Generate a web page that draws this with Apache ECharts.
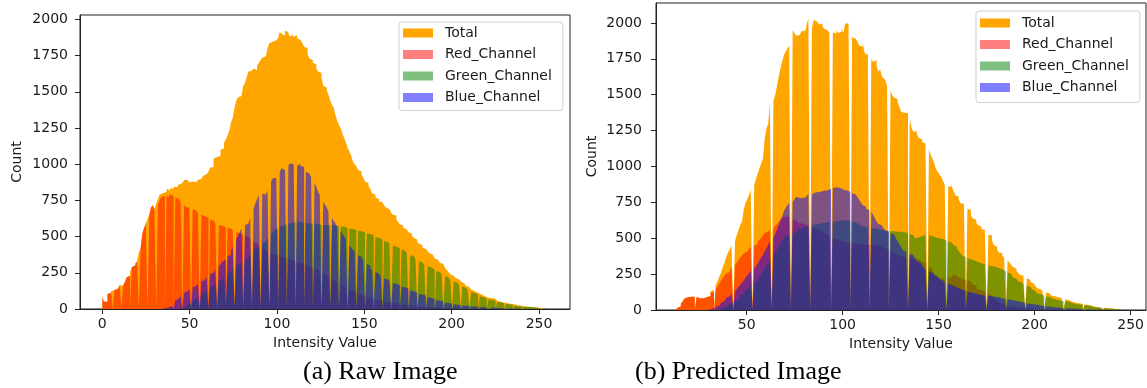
<!DOCTYPE html>
<html><head><meta charset="utf-8">
<script src="https://cdn.jsdelivr.net/npm/echarts@6/dist/echarts.min.js"></script>
<style>html,body{margin:0;padding:0;background:#fff}#c{width:1147px;height:388px}</style>
</head><body><div id="c"></div><script>
// ---------- Panel (a): Raw Image, counts per intensity 0..255 ----------
const rawTotal = [
85,50,52,105,110,125,130,135,140,150,
165,160,170,185,220,230,255,290,300,315,
330,390,420,520,560,590,620,650,700,720,
690,730,760,790,800,805,810,830,820,835,
830,845,840,850,860,870,880,890,890,880,
875,880,890,875,880,890,900,905,920,930,
940,950,975,980,1040,1050,1055,1060,1100,1110,
1150,1170,1200,1230,1290,1320,1390,1440,1460,1470,
1480,1540,1560,1600,1640,1645,1650,1660,1650,1680,
1700,1720,1735,1745,1755,1800,1835,1845,1850,1855,
1860,1870,1915,1900,1890,1920,1915,1900,1880,1895,
1880,1890,1870,1858,1845,1835,1810,1800,1760,1730,
1720,1700,1690,1660,1640,1630,1600,1540,1530,1510,
1480,1440,1410,1390,1340,1300,1270,1250,1210,1180,
1150,1110,1090,1060,1020,1000,985,960,950,930,
905,880,870,850,830,800,790,770,760,745,
735,725,715,700,690,680,665,650,645,620,
600,585,575,560,550,540,530,520,505,490,
480,465,450,440,425,415,405,400,385,375,
365,350,340,330,320,310,300,285,270,255,
240,230,220,212,205,198,190,178,168,160,
152,145,135,125,118,113,105,100,95,88,
82,78,76,75,74,70,62,55,50,48,
45,42,39,37,35,33,32,28,25,24,
23,20,18,17,16,15,14,14,12,10,
9,9,7,6,5,4];
const rawRed = [
85,50,52,105,110,125,0,135,140,150,
165,0,170,185,220,230,0,290,300,315,
330,0,420,520,560,590,0,650,700,715,
685,0,720,750,775,780,0,785,770,790,
780,0,770,760,750,740,0,720,705,700,
695,0,690,680,670,660,0,650,640,640,
630,0,620,610,600,590,0,580,575,570,
565,0,560,555,545,540,0,530,525,520,
515,0,505,500,490,480,0,465,455,445,
435,0,420,410,400,395,0,385,380,375,
370,0,365,360,355,350,0,345,340,335,
330,0,325,320,315,310,0,300,295,290,
285,0,275,270,260,255,0,245,235,230,
220,0,205,195,190,180,0,165,160,150,
145,0,130,125,120,115,0,105,100,95,
90,0,82,78,75,72,0,65,62,60,
57,0,52,50,48,45,0,42,40,38,
36,0,33,31,30,28,0,25,24,22,
21,0,19,18,17,16,0,14,13,12,
12,0,10,10,9,8,0,7,7,6,
6,0,5,5,4,4,0,3,3,3,
2,0,2,2,2,1,0,1,1,1,
1,0,1,1,1,1,0,1,0,0,
0,0,0,0,0,0,0,0,0,0,
0,0,0,0,0,0,0,0,0,0,
0,0,0,0,0,0];
const rawGreen = [
0,0,0,0,0,0,0,0,0,0,
0,0,0,0,0,0,0,0,0,0,
0,0,0,0,0,0,0,0,0,0,
0,0,0,0,0,0,0,0,0,0,
0,0,0,0,0,5,0,12,20,30,
40,0,60,68,74,85,0,105,115,125,
135,0,150,158,166,175,0,195,205,215,
225,0,245,258,268,280,0,300,310,320,
327,0,345,355,365,375,0,400,419,425,
435,0,455,465,475,490,0,510,530,545,
557,0,570,575,580,585,0,590,592,598,
603,0,605,600,598,595,0,592,590,590,
590,0,588,585,585,582,0,580,580,578,
578,0,576,575,575,573,0,570,570,568,
560,0,556,552,548,545,0,540,536,533,
530,0,522,518,514,510,0,498,492,486,
480,0,470,464,458,450,0,438,432,426,
420,0,410,402,395,388,0,372,364,356,
345,0,330,322,315,308,0,295,288,282,
275,0,262,255,248,240,0,228,220,212,
200,0,188,182,176,168,0,155,148,140,
132,0,118,110,104,98,0,88,83,77,
72,0,66,63,60,57,0,50,46,42,
38,0,34,32,29,27,0,23,21,20,
19,0,16,15,14,13,0,11,10,9,
8,0,6,5,4,3];
const rawBlue = [
0,0,0,0,0,0,0,0,0,0,
0,0,0,0,0,0,0,0,0,0,
0,0,0,0,0,0,0,0,0,0,
0,0,0,0,0,5,0,10,15,20,
30,0,60,70,80,90,0,110,120,130,
140,0,150,160,166,175,0,190,200,210,
220,0,240,250,260,270,0,295,310,327,
340,0,365,373,400,430,0,480,500,530,
557,0,580,590,603,630,0,690,730,760,
787,0,795,790,800,820,0,880,902,905,
913,0,950,971,960,980,0,990,1006,1000,
995,0,990,1000,985,983,0,948,935,925,
910,0,870,845,810,787,0,740,720,700,
672,0,630,610,590,570,0,540,520,500,
480,0,440,425,410,395,0,370,360,350,
335,0,310,300,285,270,0,255,245,235,
225,0,210,205,195,190,0,180,175,170,
165,0,155,150,145,140,0,130,122,118,
112,0,104,100,97,92,0,82,78,72,
68,0,62,58,55,50,0,44,41,39,
36,0,32,30,28,26,0,23,22,21,
20,0,18,17,16,15,0,13,12,12,
11,0,10,9,9,8,0,7,7,6,
6,0,5,5,4,4,0,3,3,3,
2,0,2,2,2,1,0,1,1,1,
1,0,1,0,0,0];
const rawFirstValue = 0;
const rawRange = [0, 255];

// ---------- Panel (b): Predicted Image, counts per intensity 13..246 ----------
const predTotal = [
3,15,25,45,60,80,88,
92,93,92,93,90,82,80,82,85,90,
92,100,130,140,175,200,233,260,300,330,
370,400,420,450,480,520,560,590,616,700,
744,770,800,840,870,917,950,987,1020,1056,
1195,1265,1300,1428,1460,1497,1560,1625,1683,1730,
1776,1800,1823,1840,1950,1930,1910,1916,1920,1940,
1950,1930,1990,2031,1960,2020,2010,2000,1990,1997,
1980,1960,1950,1940,1930,1935,1927,1950,1930,1939,
1960,1930,1997,1997,1920,1900,1892,1900,1870,1845,
1834,1860,1800,1776,1790,1750,1730,1740,1700,1660,
1680,1630,1614,1600,1560,1530,1497,1480,1470,1451,
1420,1381,1375,1372,1370,1330,1270,1242,1245,1230,
1200,1190,1172,1160,1149,1120,1080,1056,1020,980,
963,945,928,900,875,859,862,859,830,800,
790,770,744,740,720,705,697,660,640,628,
610,592,580,565,558,540,523,520,490,453,
440,420,400,395,380,360,349,330,315,300,
290,275,260,244,240,230,221,210,195,185,
174,165,150,145,139,130,122,116,110,100,
95,93,88,85,81,78,73,70,65,58,
53,51,49,47,46,42,39,36,35,30,
26,23,21,19,17,16,15,13,12,10,
9,8,7,6,5,5,3];
const predRed = [
3,15,25,45,60,80,88,
92,93,92,93,90,82,80,82,85,88,
90,95,120,125,150,165,185,205,225,240,
255,265,280,300,315,330,350,365,380,395,
405,415,425,440,450,460,475,490,505,520,
535,545,555,562,569,585,600,615,630,645,
650,655,650,645,630,625,620,610,605,600,
595,590,585,580,575,570,565,560,557,550,
545,535,525,515,505,500,495,490,485,480,
475,472,470,468,466,465,463,462,461,460,
460,458,456,455,453,452,450,448,446,444,
440,435,430,425,418,410,402,395,388,380,
372,370,367,365,363,362,360,358,356,355,
352,345,335,325,312,298,285,270,255,240,
225,222,220,220,222,225,230,238,245,240,
232,225,218,212,208,205,200,190,180,168,
155,145,138,132,128,124,115,105,92,80,
70,60,52,45,38,32,27,24,22,20,
18,16,15,14,13,12,11,10,9,8,
7,6,6,5,5,4,4,3,3,3,
2,2,2,2,1,1,1,1,1,1,
1,1,0,0,0,0,0,0,0,0,
0,0,0,0,0,0,0,0,0,0,
0,0,0,0,0,0,0];
const predGreen = [
0,0,0,0,0,0,0,
0,0,0,0,0,0,0,0,0,0,
0,0,0,0,2,4,8,12,18,24,
30,38,46,55,65,75,88,100,112,125,
138,150,162,175,188,200,215,230,248,265,
290,310,330,350,370,395,420,441,460,480,
500,515,525,530,534,545,555,565,570,575,
578,580,585,590,593,596,598,600,603,605,
607,608,610,612,614,615,617,620,622,624,
625,626,627,624,620,615,610,605,600,590,
585,580,578,575,572,570,567,565,562,560,
558,556,554,552,550,549,548,547,546,546,
545,544,542,540,536,530,520,508,500,505,
510,515,520,523,523,520,515,510,505,500,
500,498,495,490,485,478,470,462,453,440,
425,410,395,380,368,360,355,350,345,340,
335,330,326,322,318,314,310,306,304,302,
298,292,287,282,276,270,262,252,240,228,
218,208,200,195,186,178,170,162,152,143,
132,126,115,111,107,100,95,90,86,79,
74,72,69,67,64,63,60,57,53,48,
44,42,41,39,38,35,33,31,30,26,
22,20,18,17,15,14,13,12,11,9,
8,7,7,6,5,5,3];
const predBlue = [
0,0,0,0,0,0,0,
0,0,0,0,0,0,0,0,0,0,
3,6,10,15,22,30,40,50,62,72,
85,95,105,118,130,145,160,175,190,205,
225,240,258,275,290,305,325,345,365,385,
410,430,455,480,505,530,560,590,620,650,
690,710,730,745,755,770,789,780,775,778,
777,790,800,812,800,815,820,822,824,824,
830,828,835,840,845,850,855,859,852,845,
840,835,832,828,824,815,805,798,789,770,
750,731,720,705,695,685,665,640,616,600,
590,580,569,555,545,535,528,523,500,480,
460,440,418,405,395,390,385,383,360,340,
330,320,313,295,280,270,260,250,244,235,
225,215,205,197,190,182,176,170,163,158,
152,147,142,137,133,128,124,120,116,112,
110,107,104,102,100,98,97,96,94,93,
90,88,85,82,79,76,74,72,70,67,
64,61,58,55,52,49,46,44,42,40,
38,36,34,32,30,28,26,24,22,20,
19,18,17,16,16,14,13,12,11,10,
9,9,8,8,7,6,6,5,5,4,
4,3,3,3,2,2,2,2,1,1,
1,1,1,0,0,0,0];
const predFirstValue = 13;
const predRange = [13, 246];

const binCount = 256;
const xTicksRaw = [0, 50, 100, 150, 200, 250];
const xTicksPred = [50, 100, 150, 200, 250];
const yTicks = [0, 250, 500, 750, 1000, 1250, 1500, 1750, 2000];
const seriesNames = ['Total', 'Red_Channel', 'Green_Channel', 'Blue_Channel'];
const seriesColors = ['#ffa500', 'rgba(255,0,0,0.5)', 'rgba(0,128,0,0.5)', 'rgba(0,0,255,0.5)'];

// histogram binning: integer intensity values -> 256 equal-width bins over [lo, hi]
function binValues(values, first, range) {
  const bins = new Array(binCount).fill(0);
  const span = range[1] - range[0];
  values.forEach((c, k) => {
    const v = first + k;
    let i = Math.floor((v - range[0]) * binCount / span);
    if (i >= binCount) i = binCount - 1;
    if (i < 0) i = 0;
    bins[i] += c;
  });
  return bins;
}
// outline of the bars: each bin contributes its left and right edge at its count
function stepData(bins, range) {
  const span = range[1] - range[0];
  const d = [[range[0], 0]];
  bins.forEach((c, i) => {
    const x0 = range[0] + i * span / binCount;
    const x1 = range[0] + (i + 1) * span / binCount;
    d.push([x0, c], [x1, c]);
  });
  d.push([range[1], 0]);
  return d;
}

const panels = [
  {vals: [rawTotal, rawRed, rawGreen, rawBlue], first: rawFirstValue, range: rawRange},
  {vals: [predTotal, predRed, predGreen, predBlue], first: predFirstValue, range: predRange}
];

const series = [];
panels.forEach((p, pi) => {
  p.vals.forEach((arr, si) => {
    const bins = binValues(arr, p.first, p.range);
    series.push({
      name: seriesNames[si], type: 'line', xAxisIndex: pi, yAxisIndex: pi,
      data: stepData(bins, p.range),
      symbol: 'none', showSymbol: false, silent: true, smooth: false,
      color: seriesColors[si],
      lineStyle: {width: 0, color: seriesColors[si]},
      areaStyle: {color: seriesColors[si], opacity: 1},
      z: 2 + si
    });
  });
});

const TXT = '#1a1a1a';
const FONT = 'DejaVu Sans';
const plain = v => String(v);
function xAxis(gi, min, max, ticks, gap) {
  return {
    type: 'value', gridIndex: gi, min, max, z: 10,
    name: 'Intensity Value', nameLocation: 'middle', nameGap: gap,
    nameTextStyle: {color: TXT, fontSize: 14, fontFamily: FONT},
    axisLine: {show: true, onZero: false, lineStyle: {color: '#222', width: 1}},
    axisTick: {show: true, length: 5, customValues: ticks, lineStyle: {color: '#222', width: 1}},
    axisLabel: {customValues: ticks, formatter: plain, color: TXT, fontSize: 14, fontFamily: FONT, margin: 8},
    splitLine: {show: false}
  };
}
function yAxis(gi, max, margin, gap) {
  return {
    type: 'value', gridIndex: gi, min: 0, max, z: 10,
    name: 'Count', nameLocation: 'middle', nameGap: gap,
    nameTextStyle: {color: TXT, fontSize: 14, fontFamily: FONT},
    axisLine: {show: true, onZero: false, lineStyle: {color: '#222', width: 1}},
    axisTick: {show: true, length: 5, customValues: yTicks, lineStyle: {color: '#222', width: 1}},
    axisLabel: {customValues: yTicks, formatter: plain, color: TXT, fontSize: 14, fontFamily: FONT, margin},
    splitLine: {show: false}
  };
}
function legend(left, top, padding) {
  return {
    left, top, orient: 'vertical', icon: 'rect', itemWidth: 30, itemHeight: 9, itemGap: 7.5,
    padding, backgroundColor: '#fff', borderColor: '#d0d0d0', borderWidth: 1, borderRadius: 3,
    selectedMode: false,
    textStyle: {color: TXT, fontSize: 14, fontFamily: FONT, lineHeight: 14, padding: [0, 0, 0, 7]},
    data: seriesNames.map((n, i) => ({name: n, itemStyle: {color: seriesColors[i], borderWidth: 0, opacity: 1}}))
  };
}

const chart = echarts.init(document.getElementById('c'), null, {renderer: 'canvas'});
chart.setOption({
  animation: false,
  backgroundColor: '#fff',
  textStyle: {fontFamily: FONT},
  grid: [
    {left: 80, top: 15, width: 490, height: 294, show: true, borderColor: '#222', borderWidth: 1, backgroundColor: 'transparent'},
    {left: 656, top: 3, width: 490, height: 307, show: true, borderColor: '#222', borderWidth: 1, backgroundColor: 'transparent'}
  ],
  xAxis: [xAxis(0, -12.75, 267.75, xTicksRaw, 23), xAxis(1, 2.8, 258, xTicksPred, 25)],
  yAxis: [yAxis(0, 2030, 12, 56), yAxis(1, 2139, 14, 57)],
  legend: [legend(399, 22, [4, 11, 6, 4]), legend(976, 11, [5, 11, 8, 4])],
  series,
  graphic: [
    {type: 'text', x: 303, y: 372, style: {text: '(a) Raw Image', font: '26px "Liberation Serif"', fill: '#000', verticalAlign: 'middle'}},
    {type: 'text', x: 635, y: 372, style: {text: '(b) Predicted Image', font: '26px "Liberation Serif"', fill: '#000', verticalAlign: 'middle'}}
  ]
});
</script></body></html>
